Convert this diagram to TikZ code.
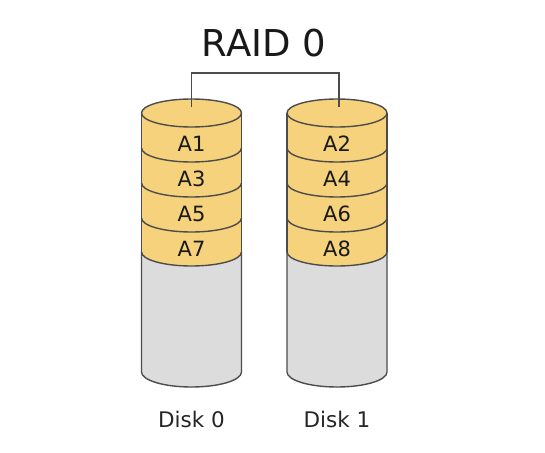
\documentclass[tikz,border=0pt]{standalone}
\usepackage{fontspec}
\setmainfont{DejaVu Sans}
\begin{document}
\begin{tikzpicture}[x=1pt,y=1pt,
  outl/.style={draw=black!70, line width=1.4pt},
  lbl/.style={font=\fontsize{21}{21}\selectfont, text=black!90, inner sep=0pt},
  dlbl/.style={font=\fontsize{21.5}{21.5}\selectfont, text=black!85, inner sep=0pt},
  ttl/.style={font=\fontsize{37}{37}\selectfont, text=black!90, inner sep=0pt}]
\definecolor{diskyellow}{HTML}{F5D27B}
\definecolor{diskgray}{HTML}{DCDCDC}
\useasboundingbox (0,0) rectangle (545,-452);
\fill[white] (0,0) rectangle (545,-452);
\foreach \cx/\dn in {191.5/0,337/1}{
  % gray body
  \fill[diskgray] (\cx-50,-252) -- (\cx-50,-372) arc[start angle=180,end angle=360,x radius=50,y radius=15] -- (\cx+50,-252) -- cycle;
  \draw[outl] (\cx-50,-252) -- (\cx-50,-372) arc[start angle=180,end angle=360,x radius=50,y radius=15] -- (\cx+50,-252);
  % yellow stack
  \fill[diskyellow] (\cx-50,-113) -- (\cx-50,-252) arc[start angle=180,end angle=360,x radius=50,y radius=14] -- (\cx+50,-113) -- cycle;
  \fill[diskyellow] (\cx,-113) ellipse[x radius=50,y radius=14];
  \draw[outl] (\cx-50,-113) -- (\cx-50,-252);
  \draw[outl] (\cx+50,-113) -- (\cx+50,-252);
  \draw[outl] (\cx,-113) ellipse[x radius=50,y radius=14];
  \foreach \yy in {148,183,218,252}{
    \draw[outl] (\cx-50,-\yy) arc[start angle=180,end angle=360,x radius=50,y radius=14];
  }
}
\node[lbl] (a1) at (191.5,-144) {A1};
\node[lbl] (a3) at (191.5,-179) {A3};
\node[lbl] (a5) at (191.5,-214) {A5};
\node[lbl] (a7) at (191.5,-249) {A7};
\node[lbl] (a2) at (337,-144) {A2};
\node[lbl] (a4) at (337,-179) {A4};
\node[lbl] (a6) at (337,-214) {A6};
\node[lbl] (a8) at (337,-249) {A8};
\node[dlbl] (d0) at (191.5,-419) {Disk 0};
\node[dlbl] (d1) at (337,-419) {Disk 1};
\node[ttl] (title) at (264,-43) {RAID 0};
\coordinate (t0) at (191.5,-107);
\coordinate (t1) at (339,-107);
\coordinate (m0) at (191.5,-73);
\draw[draw=black!70, line width=1.2pt] (t0) -- (m0) -| (t1);
\end{tikzpicture}
\end{document}
